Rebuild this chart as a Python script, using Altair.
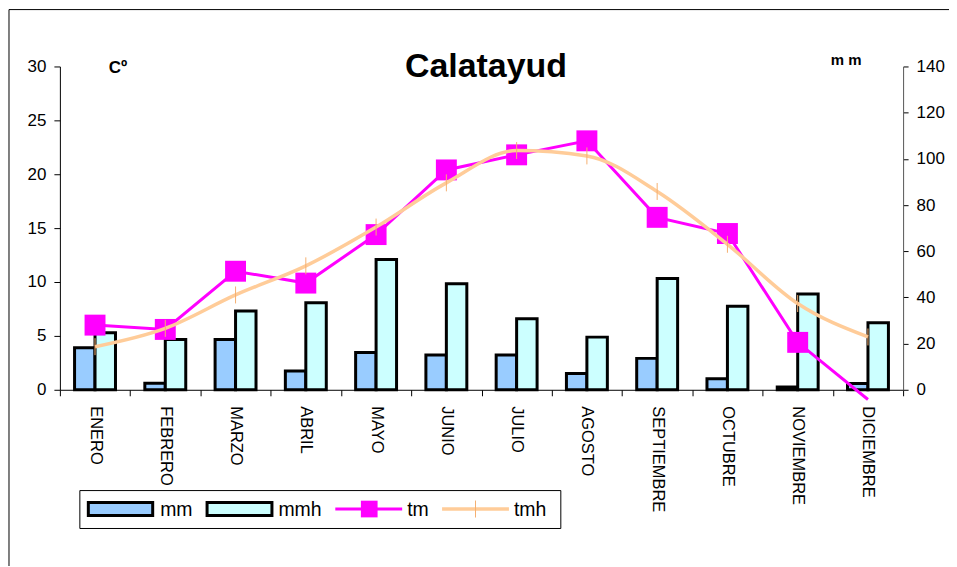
import altair as alt
import pandas as pd

# ---- data ----
months = ["ENERO", "FEBRERO", "MARZO", "ABRIL", "MAYO", "JUNIO", "JULIO",
          "AGOSTO", "SEPTIEMBRE", "OCTUBRE", "NOVIEMBRE", "DICIEMBRE"]
mm = [18.2, 2.8, 21.8, 8.1, 16.1, 15.1, 15.1, 7.0, 13.6, 4.8, 1.2, 2.7]
mmh = [24.7, 21.8, 34.1, 37.7, 56.4, 45.9, 30.8, 22.8, 48.2, 36.2, 41.5, 29.0]
tm = [6.0, 5.6, 11.0, 9.9, 14.4, 20.4, 21.8, 23.1, 16.0, 14.5, 4.4, -0.9]
tmh = [4.0, 5.7, 8.8, 11.5, 15.1, 19.2, 22.2, 21.7, 18.4, 13.5, 8.0, 4.9]
temp_ticks = [0, 5, 10, 15, 20, 25, 30]
mm_ticks = [0, 20, 40, 60, 80, 100, 120, 140]
series_bars = ["mm", "mmh"]
legend_labels = ["mm", "mmh", "tm", "tmh"]
title_text = "Calatayud"
left_unit = "Cº"
right_unit = "m m"

FONT = "Liberation Sans"
C_MM = "#99CCFF"
C_MMH = "#CCFFFF"
C_TM = "#FF00FF"
C_TMH = "#FFCC99"

bars_df = pd.DataFrame({
    "month": months * 2,
    "series": ["mm"] * 12 + ["mmh"] * 12,
    "value": mm + mmh,
})
temp_df = pd.DataFrame({"month": months, "tm": tm, "tmh": tmh})
one = pd.DataFrame({"k": [0]})

x_axis = alt.Axis(title=None, labelAngle=90, labelAlign="left", labelBaseline="middle",
                  labelFont=FONT, labelFontSize=16.5, labelColor="black",
                  tickBand="extent", tickSize=6, tickColor="black", domainColor="black",
                  labelPadding=10, grid=False, labelLimit=300)
x_enc = alt.X("month:N", sort=months, scale=alt.Scale(paddingInner=0, paddingOuter=0),
              axis=x_axis)

bars = alt.Chart(bars_df).mark_bar(stroke="black", strokeWidth=3).encode(
    x=x_enc,
    xOffset=alt.XOffset("series:N", sort=series_bars,
                        scale=alt.Scale(paddingInner=0, paddingOuter=0.717)),
    y=alt.Y("value:Q", scale=alt.Scale(domain=[0, 140], nice=False),
            axis=alt.Axis(orient="right", values=mm_ticks, title=None, grid=False,
                          labelFont=FONT, labelFontSize=17, labelColor="black",
                          tickSize=5, labelPadding=8, tickColor="black",
                          domainColor="#555555")),
    color=alt.Color("series:N", scale=alt.Scale(domain=series_bars, range=[C_MM, C_MMH]),
                    legend=None),
)

y_temp_axis = alt.Axis(orient="left", values=temp_ticks, title=None, grid=False,
                       labelFont=FONT, labelFontSize=17, labelColor="black",
                       tickSize=6, labelPadding=8, tickColor="black", domainColor="black")
y_scale = alt.Scale(domain=[0, 30], nice=False)

tm_line = alt.Chart(temp_df).mark_line(color=C_TM, strokeWidth=3).encode(
    x=x_enc, y=alt.Y("tm:Q", scale=y_scale, axis=y_temp_axis))
tm_pts = alt.Chart(temp_df).transform_filter("datum.tm >= 0").mark_point(
    shape="square", filled=True, size=440, color=C_TM, opacity=1).encode(
    x=x_enc, y=alt.Y("tm:Q", scale=y_scale, axis=y_temp_axis))
tmh_line = alt.Chart(temp_df).mark_line(color=C_TMH, strokeWidth=3.5,
                                        interpolate="monotone").encode(
    x=x_enc, y=alt.Y("tmh:Q", scale=y_scale, axis=y_temp_axis))
tmh_pts = alt.Chart(temp_df).mark_point(shape="M0,-1L0,1", filled=False, size=289,
                                        stroke="#F5B070", strokeWidth=1, opacity=1).encode(
    x=x_enc, y=alt.Y("tmh:Q", scale=y_scale, axis=y_temp_axis))

temps = alt.layer(tm_line, tm_pts, tmh_line, tmh_pts)

# ---- decorations: frame, title, units, legend ----
frame = alt.Chart(one).mark_rect(fillOpacity=0, stroke="black", strokeWidth=1).encode(
    x=alt.value(-51), x2=alt.value(980), y=alt.value(-57), y2=alt.value(540))
title = alt.Chart(one).mark_text(font=FONT, fontSize=34, fontWeight="bold",
                                 align="center", baseline="alphabetic", color="black").encode(
    x=alt.value(427), y=alt.value(11), text=alt.value(title_text))
lunit = alt.Chart(one).mark_text(font=FONT, fontSize=17, fontWeight="bold",
                                 align="left", baseline="alphabetic", color="black").encode(
    x=alt.value(49), y=alt.value(7), text=alt.value(left_unit))
runit = alt.Chart(one).mark_text(font=FONT, fontSize=15, fontWeight="bold",
                                 align="center", baseline="alphabetic", color="black").encode(
    x=alt.value(788), y=alt.value(-1), text=alt.value(right_unit))

LY = 443.5
leg_box = alt.Chart(one).mark_rect(fill="white", stroke="black", strokeWidth=1).encode(
    x=alt.value(20), x2=alt.value(502), y=alt.value(425), y2=alt.value(463))
sw_mm = alt.Chart(one).mark_rect(fill=C_MM, stroke="black", strokeWidth=3).encode(
    x=alt.value(28.5), x2=alt.value(93), y=alt.value(437), y2=alt.value(450))
sw_mmh = alt.Chart(one).mark_rect(fill=C_MMH, stroke="black", strokeWidth=3).encode(
    x=alt.value(147.5), x2=alt.value(212.5), y=alt.value(437), y2=alt.value(450))
ln_tm = alt.Chart(one).mark_rule(color=C_TM, strokeWidth=3).encode(
    x=alt.value(276), x2=alt.value(343), y=alt.value(LY))
pt_tm = alt.Chart(one).mark_point(shape="square", filled=True, size=280, color=C_TM,
                                  opacity=1).encode(x=alt.value(310), y=alt.value(LY))
ln_tmh = alt.Chart(one).mark_rule(color=C_TMH, strokeWidth=3.5).encode(
    x=alt.value(383), x2=alt.value(450), y=alt.value(LY))
pt_tmh = alt.Chart(one).mark_point(shape="M0,-1L0,1", filled=False, size=289,
                                   stroke="#F5B070", strokeWidth=1, opacity=1).encode(
    x=alt.value(416.5), y=alt.value(LY))


def leg_text(label, xpos):
    return alt.Chart(one).mark_text(font=FONT, fontSize=19.5, align="left",
                                    baseline="middle", color="black").encode(
        x=alt.value(xpos), y=alt.value(LY + 1), text=alt.value(label))


legend_layers = [leg_box, sw_mm, sw_mmh, ln_tm, pt_tm, ln_tmh, pt_tmh,
                 leg_text(legend_labels[0], 100.5),
                 leg_text(legend_labels[1], 219),
                 leg_text(legend_labels[2], 348),
                 leg_text(legend_labels[3], 455)]

chart = alt.layer(frame, bars, temps, title, lunit, runit, *legend_layers).resolve_scale(
    y="independent"
).properties(
    width=845, height=324,
    autosize=alt.AutoSizeParams(type="none"),
    padding={"left": 52, "top": 58, "right": 46, "bottom": 176},
    background="white",
).configure_view(stroke=None)

chart.save("out.html", embed_options={"renderer": "svg", "actions": False})
